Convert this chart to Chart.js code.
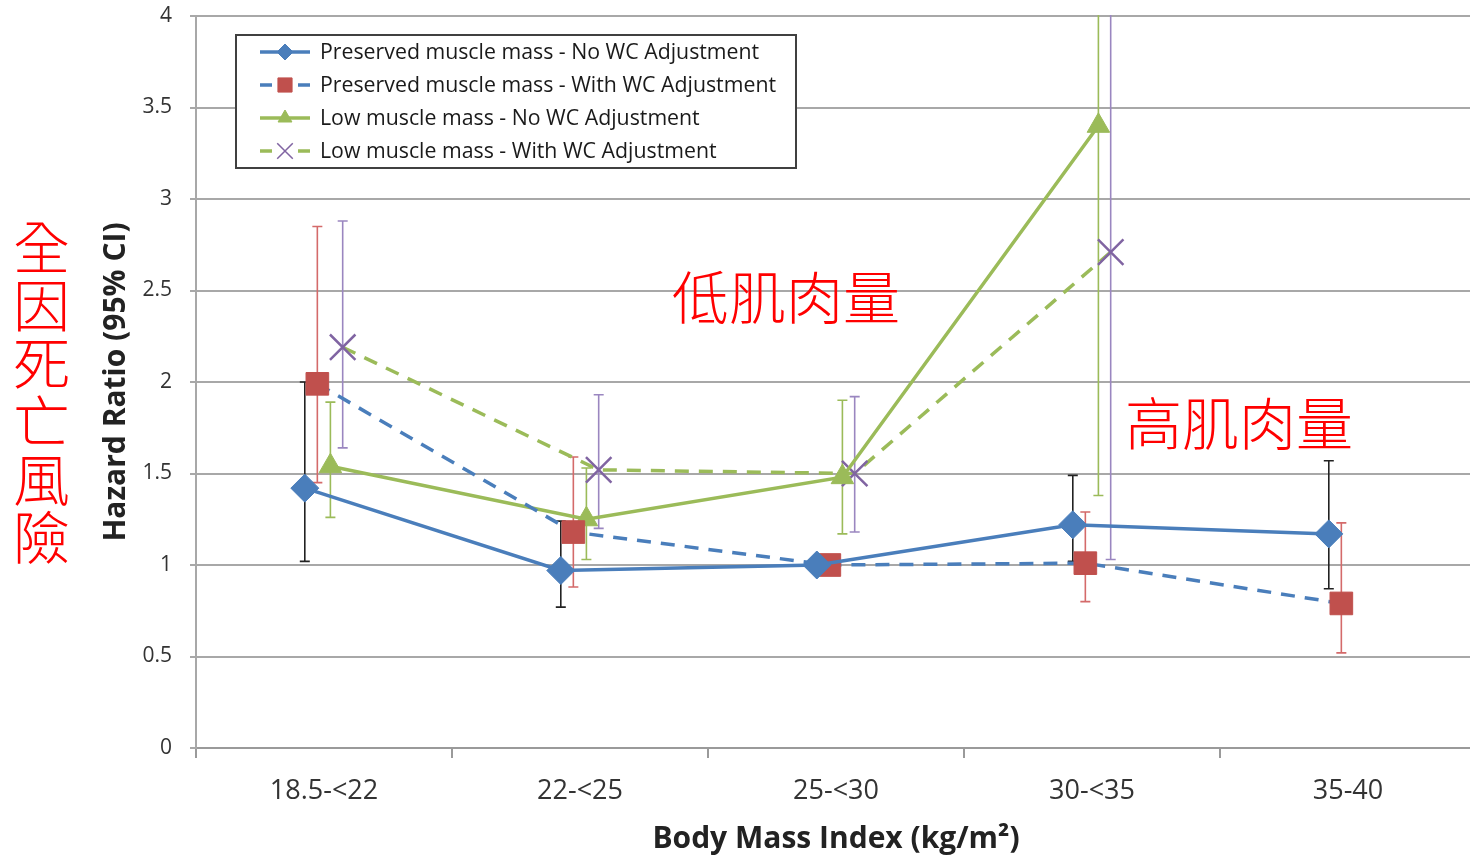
<!DOCTYPE html>
<html>
<head>
<meta charset="utf-8">
<script src="https://cdn.jsdelivr.net/npm/chart.js@4"></script>
<style>
  html, body { margin: 0; padding: 0; overflow: hidden; background: #fff; }
  #wrap { position: relative; width: 1476px; height: 857px; }
  .note { position: absolute; color: #ff0000; font-family: "Noto Sans CJK TC", "Noto Sans CJK SC", sans-serif; font-weight: 300; white-space: nowrap; }
  #noteLow { left: 672px; top: 261px; font-size: 57px; line-height: 66px; }
  #noteHigh { left: 1125px; top: 387px; font-size: 57px; line-height: 66px; }
  #noteSide { left: 13px; top: 215px; font-size: 57px; line-height: 58px; width: 60px; white-space: normal; }
</style>
</head>
<body>
<div id="wrap">
  <canvas id="chart"></canvas>
  <div class="note" id="noteLow">低肌肉量</div>
  <div class="note" id="noteHigh">高肌肉量</div>
  <div class="note" id="noteSide">全<br>因<br>死<br>亡<br>風<br>險</div>
</div>
<script>
// BMI groups (x categories)
const bmiGroups = ['18.5-<22', '22-<25', '25-<30', '30-<35', '35-40'];
const yTicks = [0, 0.5, 1, 1.5, 2, 2.5, 3, 3.5, 4];

// Preserved muscle mass - No WC Adjustment
const presNoWc = [1.42, 0.97, 1.00, 1.22, 1.17];
const presNoWcLo = [1.02, 0.77, null, 1.02, 0.87];
const presNoWcHi = [2.00, 1.24, null, 1.49, 1.57];

// Preserved muscle mass - With WC Adjustment
const presWc = [1.99, 1.18, 1.00, 1.01, 0.79];
const presWcLo = [1.45, 0.88, null, 0.80, 0.52];
const presWcHi = [2.85, 1.59, null, 1.29, 1.23];

// Low muscle mass - No WC Adjustment
const lowNoWc = [1.54, 1.25, 1.48, 3.40, null];
const lowNoWcLo = [1.26, 1.03, 1.17, 1.38, null];
const lowNoWcHi = [1.89, 1.53, 1.90, 8.0, null];

// Low muscle mass - With WC Adjustment
const lowWc = [2.19, 1.52, 1.50, 2.71, null];
const lowWcLo = [1.64, 1.20, 1.18, 1.03, null];
const lowWcHi = [2.88, 1.93, 1.92, 8.0, null];

const series = [
  { label: 'Preserved muscle mass - No WC Adjustment', data: presNoWc, lo: presNoWcLo, hi: presNoWcHi,
    offset: -0.075, line: '#4a7ebb', point: '#4a7ebb', style: 'rectRot', radius: 14, legendRadius: 8,
    dash: [], errColor: '#222222' },
  { label: 'Preserved muscle mass - With WC Adjustment', data: presWc, lo: presWcLo, hi: presWcHi,
    offset: -0.026, line: '#4a7ebb', point: '#c0504d', style: 'rect', radius: 16, legendRadius: 10,
    dash: [14, 10], errColor: '#d46a6a' },
  { label: 'Low muscle mass - No WC Adjustment', data: lowNoWc, lo: lowNoWcLo, hi: lowNoWcHi,
    offset: 0.025, line: '#9bbb59', point: '#9bbb59', style: 'triangle', radius: 13, legendRadius: 8,
    dash: [], errColor: '#9bbb59' },
  { label: 'Low muscle mass - With WC Adjustment', data: lowWc, lo: lowWcLo, hi: lowWcHi,
    offset: 0.073, line: '#9bbb59', point: '#8064a2', style: 'crossRot', radius: 18, legendRadius: 11,
    dash: [14, 10], errColor: '#9a86c0' }
];

const xPos = (s, i) => i + 0.5 + s.offset;

const datasets = series.map(s => ({
  label: s.label,
  data: s.data.map((v, i) => ({ x: xPos(s, i), y: v })),
  xAxisID: 'xv',
  borderColor: s.line,
  borderWidth: 3.5,
  borderDash: s.dash,
  pointStyle: s.style,
  pointRadius: s.radius,
  pointBackgroundColor: s.point,
  pointBorderColor: s.point,
  pointBorderWidth: s.style === 'crossRot' ? 2.5 : 1,
  tension: 0,
  fill: false
}));

// error bars, drawn behind the markers
const errorBars = {
  id: 'errorBars',
  beforeDatasetsDraw(chart) {
    const { ctx, chartArea, scales } = chart;
    ctx.save();
    ctx.beginPath();
    ctx.rect(chartArea.left, chartArea.top - 1, chartArea.right - chartArea.left, chartArea.bottom - chartArea.top + 2);
    ctx.clip();
    series.forEach(s => {
      s.lo.forEach((lo, i) => {
        const hi = s.hi[i];
        if (lo == null || hi == null) return;
        const x = scales.xv.getPixelForValue(xPos(s, i));
        const y1 = scales.y.getPixelForValue(lo);
        const y2 = scales.y.getPixelForValue(hi);
        ctx.strokeStyle = s.errColor;
        ctx.lineWidth = 1.6;
        ctx.beginPath();
        ctx.moveTo(x, y1); ctx.lineTo(x, y2);
        ctx.moveTo(x - 5, y1); ctx.lineTo(x + 5, y1);
        ctx.moveTo(x - 5, y2); ctx.lineTo(x + 5, y2);
        ctx.stroke();
      });
    });
    ctx.restore();
  }
};

// boxed legend in the upper left of the plot
const boxLegend = {
  id: 'boxLegend',
  afterDraw(chart) {
    const ctx = chart.ctx;
    const bx = 236, by = 35, bw = 560, bh = 133;
    ctx.save();
    ctx.fillStyle = '#ffffff';
    ctx.fillRect(bx, by, bw, bh);
    ctx.strokeStyle = '#404040';
    ctx.lineWidth = 2;
    ctx.strokeRect(bx, by, bw, bh);
    series.forEach((s, k) => {
      const y = 52 + k * 33;
      ctx.strokeStyle = s.line;
      ctx.lineWidth = 3.5;
      ctx.setLineDash([]);
      ctx.beginPath();
      if (s.dash.length) {
        ctx.moveTo(260, y); ctx.lineTo(272, y);
        ctx.moveTo(298, y); ctx.lineTo(310, y);
      } else {
        ctx.moveTo(260, y); ctx.lineTo(310, y);
      }
      ctx.stroke();
      ctx.fillStyle = s.point;
      ctx.strokeStyle = s.point;
      ctx.lineWidth = s.style === 'crossRot' ? 1.5 : 1;
      Chart.helpers.drawPoint(ctx, { pointStyle: s.style, radius: s.legendRadius, borderWidth: ctx.lineWidth }, 285, y);
      ctx.fillStyle = '#1a1a1a';
      ctx.font = '21.3px "Open Sans"';
      ctx.textBaseline = 'middle';
      ctx.fillText(s.label, 320, y + 1);
    });
    ctx.restore();
  }
};

new Chart(document.getElementById('chart'), {
  type: 'line',
  data: { labels: bmiGroups, datasets },
  plugins: [errorBars, boxLegend],
  options: {
    responsive: true,
    maintainAspectRatio: false,
    animation: false,
    layout: { autoPadding: false, padding: { top: 16, left: 0, right: 0, bottom: 0 } },
    plugins: { legend: { display: false }, tooltip: { enabled: false } },
    scales: {
      x: {
        type: 'category',
        offset: true,
        grid: { offset: true, drawOnChartArea: false, drawTicks: true, tickLength: 10, color: '#9a9a9a', lineWidth: 2 },
        border: { color: '#9a9a9a', width: 2 },
        ticks: { color: '#333', font: { family: 'Open Sans', size: 27 }, padding: 17 },
        title: { display: true, text: 'Body Mass Index (kg/m²)', color: '#222',
          font: { family: 'Open Sans', size: 30, weight: 'bold' }, padding: { top: 0, bottom: 0 } },
        afterFit: scale => {
          scale.height = 109;
          scale.paddingLeft = 0;
          scale.paddingRight = 0;
        }
      },
      xv: { type: 'linear', display: false, min: 0, max: 5 },
      y: {
        min: 0, max: 4,
        afterBuildTicks: scale => { scale.ticks = yTicks.map(v => ({ value: v })); },
        grid: { color: '#a8a8a8', lineWidth: 2, tickLength: 6 },
        border: { color: '#a8a8a8', width: 2 },
        ticks: { color: '#333', font: { family: 'Open Sans', size: 21 }, padding: 18, callback: v => String(v) },
        title: { display: true, text: 'Hazard Ratio (95% CI)', color: '#222',
          font: { family: 'Open Sans', size: 30, weight: 'bold' }, padding: { top: 98, bottom: 0 } },
        afterFit: scale => {
          scale.width = 196;
          scale.paddingTop = 0;
          scale.paddingBottom = 0;
        }
      }
    }
  }
});
</script>
</body>
</html>
